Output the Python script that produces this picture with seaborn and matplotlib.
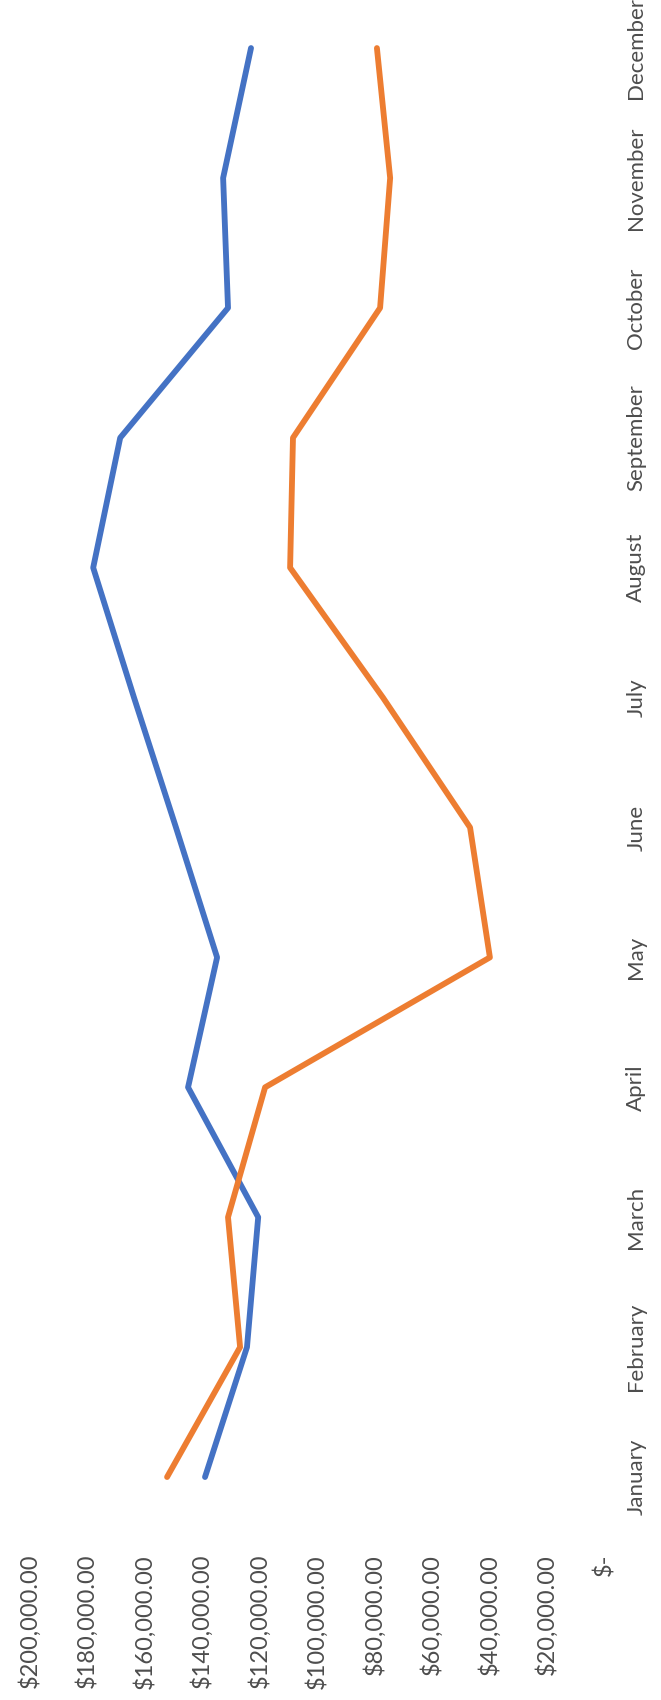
import pandas as pd
import matplotlib.pyplot as plt
import seaborn as sns

sns.set_theme(style="white")
plt.rcParams['font.family'] = ['Lato', 'DejaVu Sans']

months = ['January', 'February', 'March', 'April', 'May', 'June',
          'July', 'August', 'September', 'October', 'November', 'December']
series_blue = [138800, 124200, 120300, 144700, 134600, 148900,
               163500, 177700, 168300, 130800, 132500, 122800]
series_orange = [152000, 126600, 130800, 117900, 39700, 46600,
                 76900, 109200, 108200, 77900, 74400, 79000]
value_ticks = [0, 20000, 40000, 60000, 80000, 100000,
               120000, 140000, 160000, 180000, 200000]
value_tick_labels = ['$-', '$20,000.00', '$40,000.00', '$60,000.00', '$80,000.00',
                     '$100,000.00', '$120,000.00', '$140,000.00', '$160,000.00',
                     '$180,000.00', '$200,000.00']


def build_frame():
    """Long-form table for seaborn."""
    n = len(months)
    df = pd.DataFrame({
        'month': list(range(n)) * 2,
        'value': series_blue + series_orange,
        'series': ['Series1'] * n + ['Series2'] * n,
    })
    return df


def draw(df):
    fig = plt.figure(figsize=(6.61, 17), dpi=100)
    ax = fig.add_axes([0.044, 0.0941, 0.8698, 0.9059])

    # the chart is a normal line chart turned a quarter turn, so the months run up the page
    sns.lineplot(data=df, x='value', y='month', hue='series', orient='y',
                 palette=['#4472C4', '#ED7D31'], linewidth=4.2, legend=False, ax=ax)

    ax.set_xlim(200000, 0)
    ax.set_ylim(-0.485, 11.37)

    ax.set_xticks(value_ticks)
    ax.set_xticklabels(value_tick_labels, rotation=90, va='top', ha='center')
    ax.yaxis.tick_right()
    ax.set_yticks(range(len(months)))
    ax.set_yticklabels(months, rotation=90, va='center')

    ax.tick_params(axis='x', length=0, pad=10, labelsize=17, labelcolor='#4d4d4d')
    ax.tick_params(axis='y', length=0, pad=16, labelsize=16, labelcolor='#4d4d4d')
    ax.set_xlabel('')
    ax.set_ylabel('')
    for side in ax.spines.values():
        side.set_visible(False)
    ax.grid(False)

    fig.savefig('out.png', dpi=100)


draw(build_frame())
